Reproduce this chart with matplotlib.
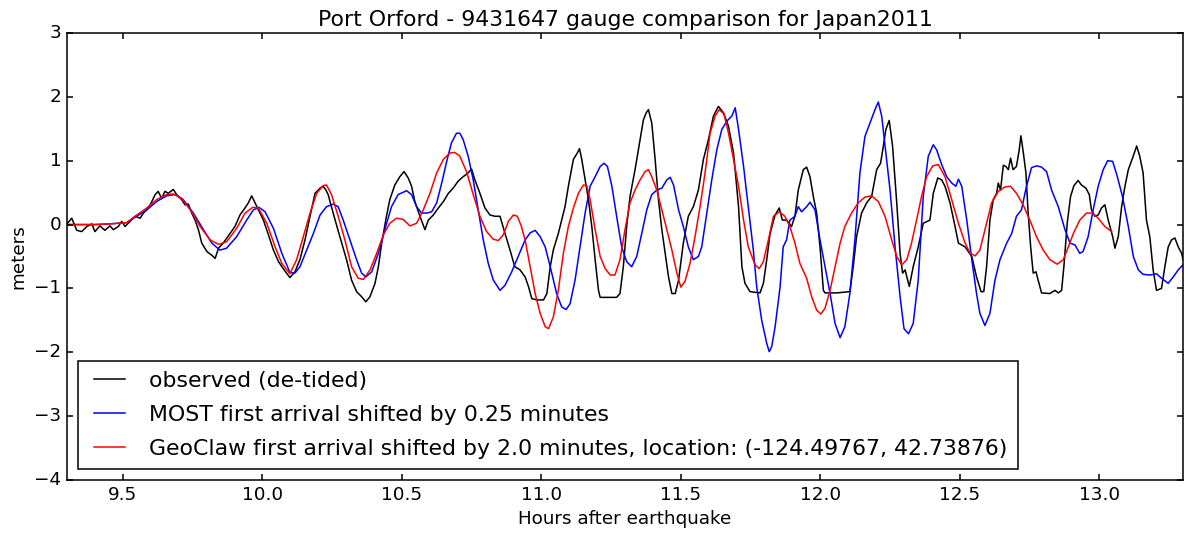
import numpy as np
import matplotlib
matplotlib.use("Agg")
import matplotlib.pyplot as plt

# (hours after earthquake, meters)
observed = [
    (9.300, 0.01), (9.317, 0.10), (9.335, -0.09), (9.353, -0.11), (9.371, -0.03), (9.389, 0.01), (9.400, -0.11), (9.418, -0.02), (9.436, -0.09), (9.454, -0.02),
    (9.466, -0.08), (9.484, -0.03), (9.496, 0.05), (9.508, -0.03), (9.526, 0.05), (9.544, 0.13), (9.562, 0.10), (9.574, 0.18), (9.592, 0.26), (9.604, 0.36),
    (9.616, 0.47), (9.627, 0.52), (9.639, 0.41), (9.651, 0.52), (9.663, 0.49), (9.681, 0.55), (9.693, 0.47), (9.711, 0.39), (9.723, 0.31), (9.735, 0.32),
    (9.747, 0.18), (9.759, 0.07), (9.771, -0.08), (9.783, -0.29), (9.801, -0.42), (9.819, -0.48), (9.831, -0.53), (9.843, -0.37), (9.860, -0.29), (9.884, -0.14),
    (9.902, -0.03), (9.920, 0.15), (9.938, 0.26), (9.950, 0.34), (9.962, 0.45), (9.974, 0.34), (9.986, 0.23), (10.004, 0.07), (10.022, -0.16), (10.040, -0.40),
    (10.058, -0.58), (10.075, -0.69), (10.099, -0.83),
    (10.117, -0.74), (10.135, -0.55), (10.153, -0.24), (10.171, 0.13), (10.189, 0.49), (10.207, 0.57), (10.218, 0.60), (10.228, 0.54), (10.236, 0.47), (10.254, 0.18),
    (10.278, -0.19), (10.302, -0.55), (10.320, -0.87), (10.338, -1.05), (10.356, -1.13), (10.371, -1.21), (10.386, -1.13), (10.404, -0.92), (10.416, -0.66), (10.428, -0.29),
    (10.445, 0.13), (10.457, 0.39), (10.475, 0.62), (10.493, 0.75), (10.508, 0.83), (10.523, 0.73), (10.535, 0.60), (10.547, 0.36), (10.565, 0.13), (10.583, -0.08),
    (10.595, 0.07), (10.613, 0.15), (10.631, 0.26), (10.649, 0.36), (10.667, 0.49), (10.684, 0.57), (10.702, 0.68), (10.720, 0.75), (10.738, 0.81), (10.750, 0.87),
    (10.762, 0.70), (10.780, 0.49), (10.798, 0.26), (10.816, 0.15), (10.834, 0.13), (10.852, 0.13), (10.870, -0.14), (10.888, -0.40), (10.905, -0.66),
    (10.924, -0.71), (10.942, -0.82), (10.954, -0.97), (10.966, -1.16), (10.984, -1.18), (11.008, -1.18), (11.020, -1.08), (11.032, -0.66), (11.043, -0.40), (11.061, -0.14),
    (11.073, 0.07), (11.085, 0.28), (11.097, 0.60), (11.115, 1.02), (11.129, 1.12), (11.137, 1.19), (11.145, 1.02), (11.157, 0.70), (11.169, 0.39), (11.181, -0.03),
    (11.193, -0.55), (11.205, -1.03), (11.211, -1.14), (11.235, -1.14), (11.270, -1.14), (11.282, -1.08), (11.294, -0.66), (11.306, -0.03), (11.318, 0.44), (11.336, 0.86),
    (11.354, 1.33), (11.366, 1.64), (11.376, 1.75), (11.384, 1.80), (11.396, 1.59), (11.408, 1.02), (11.420, 0.39), (11.432, -0.08), (11.444, -0.45), (11.456, -0.82),
    (11.468, -1.08), (11.480, -1.08), (11.492, -0.87), (11.509, -0.29), (11.527, 0.13), (11.545, 0.28), (11.563, 0.54), (11.581, 1.02), (11.599, 1.33), (11.617, 1.70),
    (11.635, 1.85), (11.653, 1.75), (11.671, 1.54), (11.689, 1.12), (11.707, 0.28), (11.719, -0.66), (11.730, -0.92), (11.748, -1.05),
    (11.784, -1.07), (11.796, -0.92), (11.808, -0.55), (11.820, -0.14), (11.838, 0.15), (11.853, 0.26), (11.864, 0.07), (11.879, 0.07), (11.897, -0.03), (11.909, 0.13),
    (11.921, 0.54), (11.939, 0.86), (11.951, 0.90), (11.963, 0.75), (11.975, 0.44), (11.987, 0.18), (11.999, -0.35), (12.011, -1.03), (12.017, -1.07), (12.059, -1.07),
    (12.106, -1.05), (12.118, -0.66), (12.130, -0.19), (12.148, 0.18), (12.166, 0.34), (12.184, 0.44), (12.202, 0.86), (12.216, 0.96), (12.226, 1.23), (12.235, 1.49),
    (12.247, 1.63), (12.259, 1.23), (12.274, 0.34), (12.286, -0.45), (12.295, -0.76), (12.304, -0.71), (12.319, -0.97), (12.333, -0.66), (12.351, -0.35), (12.369, 0.02),
    (12.393, 0.07), (12.405, 0.49), (12.421, 0.73), (12.435, 0.70), (12.447, 0.60), (12.465, 0.34), (12.483, -0.03), (12.495, -0.29), (12.519, -0.35), (12.543, -0.50),
    (12.560, -0.82), (12.576, -1.05),
    (12.586, -1.05), (12.596, -0.66), (12.608, 0.07), (12.620, 0.39), (12.632, 0.49), (12.638, 0.65), (12.646, 0.54), (12.656, 0.93), (12.665, 0.91), (12.674, 0.86),
    (12.682, 1.04), (12.691, 0.86), (12.703, 0.91), (12.713, 1.17), (12.719, 1.39), (12.727, 1.15), (12.737, 0.81), (12.745, 0.18), (12.754, -0.35), (12.763, -0.76),
    (12.773, -0.74), (12.781, -0.87), (12.793, -1.07), (12.823, -1.08), (12.841, -1.03), (12.853, -1.07), (12.865, -1.03), (12.873, -0.66), (12.885, 0.02), (12.897, 0.44),
    (12.909, 0.61), (12.924, 0.69), (12.936, 0.62), (12.952, 0.57), (12.964, 0.47), (12.972, 0.23), (12.984, 0.13), (12.996, 0.15), (13.008, 0.26), (13.020, 0.31),
    (13.032, 0.07), (13.048, -0.19), (13.056, -0.37), (13.068, -0.19), (13.080, 0.28), (13.092, 0.60), (13.104, 0.86), (13.119, 1.04), (13.134, 1.23), (13.145, 1.07),
    (13.157, 0.81), (13.169, 0.07), (13.181, -0.19), (13.193, -0.71), (13.205, -1.03), (13.223, -1.00), (13.235, -0.66), (13.247, -0.35), (13.259, -0.24), (13.271, -0.21),
    (13.283, -0.35), (13.295, -0.45), (13.300, -0.55),
]

most = [
    (9.300, 0.0), (9.350, 0.0), (9.400, 0.0), (9.450, 0.01), (9.514, 0.03), (9.550, 0.13), (9.586, 0.23), (9.621, 0.36), (9.657, 0.45), (9.687, 0.47),
    (9.717, 0.39), (9.753, 0.18), (9.789, -0.08), (9.819, -0.29), (9.848, -0.40), (9.872, -0.37), (9.908, -0.19), (9.944, 0.07), (9.968, 0.23), (9.988, 0.27),
    (10.010, 0.20), (10.040, -0.06), (10.070, -0.45), (10.099, -0.75), (10.117, -0.76), (10.135, -0.66), (10.159, -0.40), (10.183, -0.14), (10.207, 0.15), (10.230, 0.28),
    (10.254, 0.32), (10.272, 0.28), (10.290, 0.07), (10.314, -0.24), (10.338, -0.55), (10.356, -0.76), (10.371, -0.82), (10.392, -0.74), (10.416, -0.45), (10.439, -0.08),
    (10.463, 0.28), (10.487, 0.47), (10.517, 0.53), (10.535, 0.47), (10.553, 0.28), (10.571, 0.18), (10.589, 0.18), (10.607, 0.20), (10.625, 0.34), (10.643, 0.65),
    (10.661, 0.99), (10.678, 1.28), (10.696, 1.43), (10.708, 1.43), (10.720, 1.33), (10.738, 1.07), (10.756, 0.70), (10.774, 0.23), (10.792, -0.24), (10.810, -0.61),
    (10.828, -0.87), (10.852, -1.03), (10.870, -0.95), (10.894, -0.74), (10.917, -0.50), (10.942, -0.24), (10.960, -0.13), (10.978, -0.09), (10.996, -0.19), (11.014, -0.35),
    (11.032, -0.66), (11.055, -1.08), (11.073, -1.29), (11.089, -1.33), (11.103, -1.24), (11.121, -0.87), (11.139, -0.35), (11.157, 0.18), (11.175, 0.60), (11.193, 0.75),
    (11.211, 0.91), (11.225, 0.96), (11.237, 0.91), (11.253, 0.60), (11.270, 0.13), (11.288, -0.35), (11.306, -0.58), (11.324, -0.66), (11.342, -0.50), (11.360, -0.14),
    (11.378, 0.23), (11.396, 0.47), (11.414, 0.54), (11.432, 0.57), (11.450, 0.70), (11.462, 0.74), (11.474, 0.62), (11.492, 0.23), (11.509, -0.03), (11.527, -0.35),
    (11.545, -0.55), (11.563, -0.50), (11.575, -0.35), (11.593, 0.18), (11.611, 0.70), (11.629, 1.17), (11.647, 1.49), (11.665, 1.62), (11.683, 1.70), (11.695, 1.83),
    (11.707, 1.49), (11.725, 0.91), (11.742, 0.28), (11.760, -0.40), (11.772, -0.97), (11.790, -1.50), (11.808, -1.86), (11.817, -1.99), (11.826, -1.91), (11.838, -1.60),
    (11.856, -0.97), (11.867, -0.35), (11.879, -0.24), (11.891, 0.07), (11.909, 0.13), (11.921, 0.28), (11.933, 0.20), (11.951, 0.28), (11.963, 0.35), (11.981, 0.23),
    (11.999, -0.24), (12.017, -0.66), (12.035, -1.08), (12.053, -1.55), (12.071, -1.77), (12.088, -1.60), (12.106, -1.08), (12.124, -0.24), (12.142, 0.81), (12.160, 1.38),
    (12.178, 1.59), (12.196, 1.80), (12.208, 1.92), (12.220, 1.70), (12.232, 1.23), (12.250, 0.54), (12.268, -0.35), (12.286, -1.13), (12.300, -1.63), (12.316, -1.71),
    (12.333, -1.55), (12.351, -0.87), (12.369, 0.44), (12.387, 1.07), (12.405, 1.25), (12.417, 1.17), (12.435, 0.94), (12.453, 0.75), (12.471, 0.65), (12.486, 0.60),
    (12.495, 0.71), (12.507, 0.60), (12.525, 0.07), (12.543, -0.55), (12.560, -1.08), (12.572, -1.39), (12.590, -1.58), (12.608, -1.39), (12.626, -0.87), (12.644, -0.55),
    (12.668, -0.29), (12.686, -0.14), (12.703, 0.13), (12.721, 0.23), (12.739, 0.60), (12.757, 0.89), (12.775, 0.92), (12.793, 0.90), (12.811, 0.83), (12.829, 0.54),
    (12.853, 0.28), (12.877, -0.08), (12.895, -0.29), (12.913, -0.32), (12.930, -0.45), (12.942, -0.42), (12.960, -0.19), (12.978, 0.23), (12.996, 0.60), (13.014, 0.86),
    (13.030, 1.00), (13.048, 0.99), (13.064, 0.76), (13.083, 0.44), (13.104, -0.03), (13.122, -0.50), (13.140, -0.71), (13.157, -0.78), (13.181, -0.79), (13.205, -0.77),
    (13.223, -0.84), (13.247, -0.92), (13.265, -0.82), (13.283, -0.71), (13.300, -0.63),
]

geoclaw = [
    (9.300, 0.0), (9.350, 0.0), (9.400, 0.0), (9.450, 0.01), (9.514, 0.03), (9.550, 0.15), (9.586, 0.26), (9.621, 0.39), (9.657, 0.47), (9.681, 0.48),
    (9.711, 0.41), (9.747, 0.20), (9.777, -0.03), (9.813, -0.24), (9.843, -0.31), (9.872, -0.27), (9.908, -0.06), (9.938, 0.18), (9.966, 0.27), (9.986, 0.26),
    (10.016, 0.02), (10.046, -0.35), (10.070, -0.61), (10.099, -0.77), (10.123, -0.55), (10.147, -0.19), (10.171, 0.18), (10.195, 0.49), (10.218, 0.61), (10.230, 0.62),
    (10.248, 0.47), (10.272, 0.13), (10.296, -0.24), (10.320, -0.66), (10.344, -0.84), (10.362, -0.86), (10.386, -0.71), (10.410, -0.45), (10.434, -0.16), (10.457, 0.02),
    (10.481, 0.10), (10.505, 0.08), (10.529, -0.02), (10.553, 0.02), (10.577, 0.23), (10.601, 0.49), (10.625, 0.81), (10.649, 1.02), (10.672, 1.12), (10.690, 1.13),
    (10.708, 1.07), (10.732, 0.83), (10.756, 0.47), (10.780, 0.13), (10.804, -0.11), (10.828, -0.23), (10.846, -0.25), (10.864, -0.16), (10.882, 0.05), (10.900, 0.15),
    (10.914, 0.13), (10.928, -0.02), (10.942, -0.24), (10.960, -0.66), (10.978, -1.08), (10.996, -1.39), (11.014, -1.60), (11.026, -1.63), (11.043, -1.45), (11.061, -1.03),
    (11.079, -0.45), (11.097, -0.03), (11.115, 0.26), (11.133, 0.49), (11.151, 0.62), (11.163, 0.61), (11.175, 0.39), (11.193, -0.08), (11.211, -0.50), (11.229, -0.69),
    (11.247, -0.79), (11.264, -0.79), (11.282, -0.55), (11.300, -0.08), (11.318, 0.34), (11.336, 0.54), (11.354, 0.70), (11.372, 0.83), (11.384, 0.86), (11.396, 0.75),
    (11.414, 0.54), (11.432, 0.23), (11.450, -0.08), (11.468, -0.40), (11.486, -0.76), (11.500, -0.98), (11.515, -0.89), (11.533, -0.61), (11.551, -0.19), (11.569, 0.28),
    (11.587, 0.81), (11.605, 1.43), (11.623, 1.70), (11.638, 1.80), (11.655, 1.73), (11.671, 1.43), (11.689, 1.02), (11.707, 0.60), (11.725, 0.07), (11.742, -0.35),
    (11.766, -0.63), (11.781, -0.69), (11.796, -0.58), (11.814, -0.24), (11.832, 0.13), (11.853, 0.20), (11.873, 0.13), (11.891, -0.03), (11.909, -0.29), (11.927, -0.61),
    (11.951, -0.84), (11.969, -1.13), (11.987, -1.34), (12.002, -1.40), (12.017, -1.31), (12.035, -1.03), (12.053, -0.66), (12.071, -0.29), (12.088, -0.03), (12.112, 0.18),
    (12.136, 0.34), (12.160, 0.43), (12.184, 0.45), (12.208, 0.36), (12.232, 0.13), (12.256, -0.24), (12.274, -0.50), (12.292, -0.63), (12.310, -0.55), (12.327, -0.29),
    (12.345, 0.07), (12.363, 0.44), (12.381, 0.75), (12.403, 0.92), (12.423, 0.94), (12.447, 0.75), (12.471, 0.39), (12.495, 0.02), (12.519, -0.29), (12.537, -0.45),
    (12.555, -0.49), (12.572, -0.40), (12.590, -0.08), (12.614, 0.34), (12.638, 0.52), (12.662, 0.59), (12.682, 0.60), (12.703, 0.49), (12.727, 0.31), (12.751, 0.07),
    (12.775, -0.19), (12.799, -0.40), (12.823, -0.55), (12.849, -0.62), (12.871, -0.55), (12.889, -0.35), (12.907, -0.14), (12.930, 0.07), (12.954, 0.18), (12.976, 0.18),
    (12.996, 0.10), (13.020, -0.03), (13.044, -0.11),
]

labels = [
    "observed (de-tided)",
    "MOST first arrival shifted by 0.25 minutes",
    "GeoClaw first arrival shifted by 2.0 minutes, location: (-124.49767, 42.73876)",
]
title = "Port Orford - 9431647 gauge comparison for Japan2011"

plt.style.use("classic")
plt.rcParams["font.family"] = ["DejaVu Sans"]

fig = plt.figure(figsize=(11.88, 5.35), dpi=100, facecolor="white")
ax = fig.add_axes([67 / 1188, 55 / 535, 1116 / 1188, 447 / 535])

for pts, color, lab in zip([observed, most, geoclaw], ["k", "b", "r"], labels):
    t, h = np.array(pts).T
    ax.plot(t, h, color=color, linewidth=1.1, label=lab)

ax.set_xlim(9.3, 13.3)
ax.set_ylim(-4, 3)
ax.set_xticks(np.arange(9.5, 13.01, 0.5))
ax.set_yticks(np.arange(-4, 4, 1))
ax.tick_params(labelsize=13.2, length=4.5, width=1.1)
for s in ax.spines.values():
    s.set_linewidth(1.1)
ax.set_xlabel("Hours after earthquake", fontsize=13.2)
ax.set_ylabel("meters", fontsize=13.2)
ax.set_title(title, fontsize=15.8)

leg = ax.legend(loc="lower left", fontsize=15.8, handlelength=2.0, fancybox=False,
                labelspacing=0.65, borderpad=0.45)
leg.get_frame().set_edgecolor("black")
leg.get_frame().set_linewidth(1.1)

fig.savefig("out.png", dpi=100, facecolor="white")
